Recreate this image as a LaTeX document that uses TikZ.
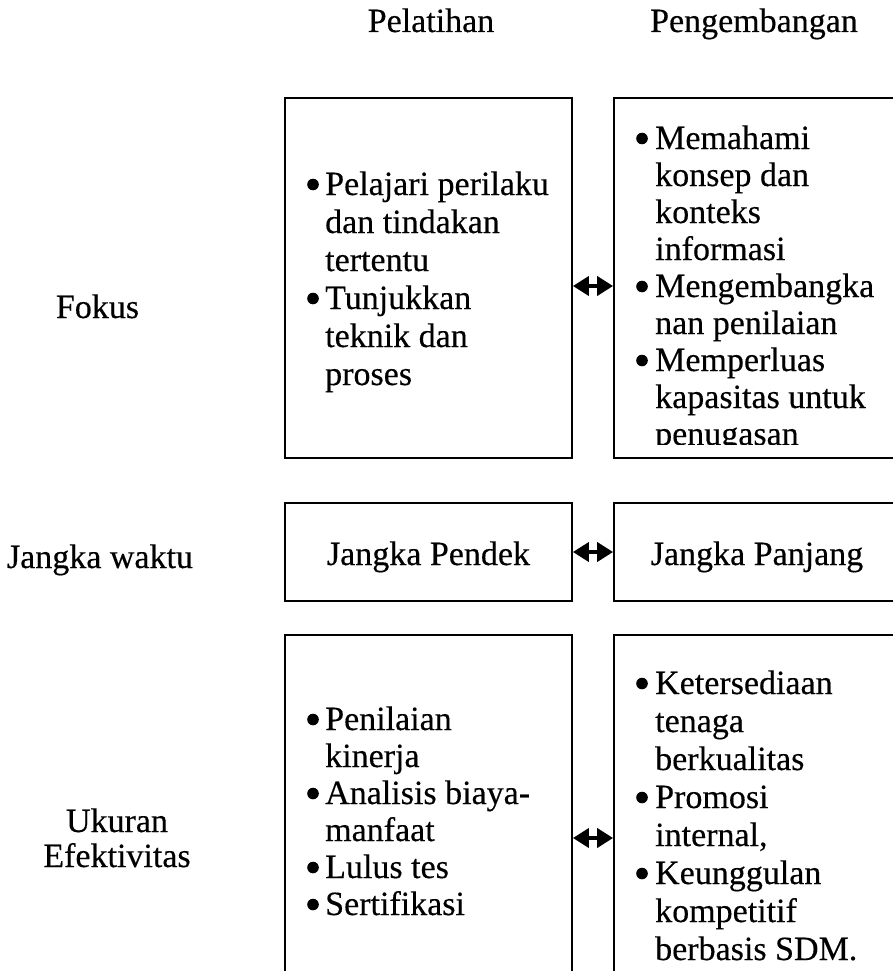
\documentclass[tikz,border=0pt]{standalone}
\usepackage{fontspec}
\setmainfont[FakeBold=0.35]{Liberation Serif}
\usetikzlibrary{arrows.meta}
\begin{document}
\begin{tikzpicture}[x=1pt,y=-1pt,
  box/.style={draw, line width=1.8pt, inner sep=0pt},
  ln/.style={anchor=base west, inner sep=0pt, font=\fontsize{34}{38}\selectfont},
  lbl/.style={anchor=base, inner sep=0pt, font=\fontsize{34}{38}\selectfont},
  dbl/.style={{Triangle[length=16pt,width=19pt]}-{Triangle[length=16pt,width=19pt]}, line width=3.8pt},
  dot/.style={fill=black}]
\useasboundingbox (0,0) rectangle (893,971);
\clip (0,0) rectangle (893,971);

% column headings
\node[lbl] (hp) at (431,32) {Pelatihan};
\node[lbl] (hd) at (754,32) {Pengembangan};

% row labels
\node[lbl] (rf) at (97.5,318) {Fokus};
\node[lbl] (rj) at (100,568) {Jangka waktu};
\node[lbl] (ru1) at (117,832) {Ukuran};
\node[lbl] (ru2) at (117,867) {Efektivitas};

% boxes
\node[box, minimum width=287pt, minimum height=360pt] (fp) at (428.5,278) {};
\node[box, minimum width=346pt, minimum height=360pt] (fd) at (787,278) {};
\node[box, minimum width=287pt, minimum height=98pt] (jp) at (428.5,552) {};
\node[box, minimum width=346pt, minimum height=98pt] (jd) at (787,552) {};
\node[box, minimum width=287pt, minimum height=375pt] (up) at (428.5,822.5) {};
\node[box, minimum width=346pt, minimum height=375pt] (ud) at (787,822.5) {};

% Fokus / Pelatihan
\foreach \b/\t [count=\i] in {1/Pelajari perilaku, 0/dan tindakan, 0/tertentu,
                              1/Tunjukkan, 0/teknik dan, 0/proses}{
  \node[ln] (fpl\i) at (325,{195+38*(\i-1)}) {\t};
  \ifnum\b=1 \fill[dot] (313,{195+38*(\i-1)-10.5}) circle (5.8pt); \fi
}

% Fokus / Pengembangan (last line cut by the frame)
\begin{scope}
\clip (600,98) rectangle (893,444);
\foreach \b/\t [count=\i] in {1/Memahami, 0/konsep dan, 0/konteks, 0/informasi,
                              1/Mengembangka, 0/nan penilaian, 1/Memperluas,
                              0/kapasitas untuk, 0/penugasan}{
  \node[ln] (fdl\i) at (655,{149+37*(\i-1)}) {\t};
  \ifnum\b=1 \fill[dot] (642,{149+37*(\i-1)-10.5}) circle (5.8pt); \fi
}
\end{scope}

% Jangka waktu
\node[lbl] (jpt) at (jp.center |- 0,565) {Jangka Pendek};
\node[lbl] (jdt) at (757,565) {Jangka Panjang};

% Ukuran Efektivitas / Pelatihan
\foreach \b/\t [count=\i] in {1/Penilaian, 0/kinerja, 1/Analisis biaya-,
                              0/manfaat, 1/Lulus tes, 1/Sertifikasi}{
  \node[ln] (upl\i) at (325,{730+37*(\i-1)}) {\t};
  \ifnum\b=1 \fill[dot] (313,{730+37*(\i-1)-10.5}) circle (5.8pt); \fi
}

% Ukuran Efektivitas / Pengembangan
\foreach \b/\t [count=\i] in {1/Ketersediaan, 0/tenaga, 0/berkualitas, 1/Promosi,
                              0/{internal,}, 1/Keunggulan, 0/kompetitif,
                              0/berbasis SDM.}{
  \node[ln] (udl\i) at (655,{694+38*(\i-1)}) {\t};
  \ifnum\b=1 \fill[dot] (642,{694+38*(\i-1)-10.5}) circle (5.8pt); \fi
}

% two-way links between the columns
\coordinate (a1) at (0,286);
\coordinate (a2) at (0,552);
\coordinate (a3) at (0,838);
\draw[dbl] (fp.east |- a1) -- (fd.west |- a1);
\draw[dbl] (jp.east |- a2) -- (jd.west |- a2);
\draw[dbl] (up.east |- a3) -- (ud.west |- a3);
\end{tikzpicture}
\end{document}
